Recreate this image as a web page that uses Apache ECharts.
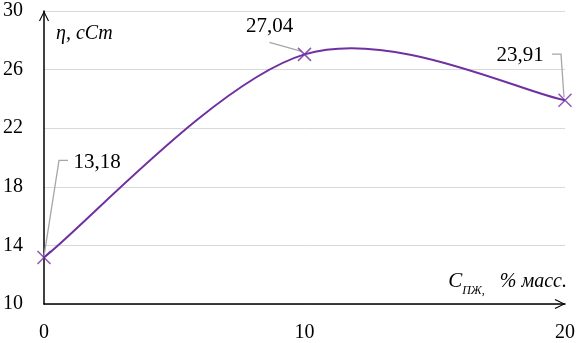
<!DOCTYPE html>
<html><head><meta charset="utf-8">
<script src="https://cdn.jsdelivr.net/npm/echarts@6/dist/echarts.min.js"></script>
<style>html,body{margin:0;padding:0;background:#fff}#c{width:578px;height:343px}</style>
</head><body><div id="c"></div>
<script>
var xValues = [0, 10, 20];
var yValues = [13.18, 27.04, 23.91];
var valueLabels = ['13,18', '27,04', '23,91'];
var yTicks = [10, 14, 18, 22, 26, 30];
var xTicks = [0, 10, 20];

var chart = echarts.init(document.getElementById('c'));
// label text centre offsets and leader-line bends, in pixels relative to the point
var labelOffsets = [[53, -95], [-35, -28], [-45, -45]];
var leaderBends = [
  [[24, -97], [15, -97], [0, -1]],
  [[-35, -12], [-3, -3]],
  [[-13, -46], [-4, -46], [-1, -3]]
];
var serif = 'Liberation Serif';
var purple = '#7030A0';
var arrowPath = 'path://M0,10L5,0L10,10L9,10.6L5,2.2L1,10.6Z';

function renderCurve(params, api) {
  var i = params.dataIndex;
  if (i >= xValues.length - 1) return null;
  var P = xValues.map(function (x, k) { return api.coord([x, yValues[k]]); });
  var p0 = P[Math.max(i - 1, 0)], p1 = P[i], p2 = P[i + 1], p3 = P[Math.min(i + 2, P.length - 1)];
  return {
    type: 'bezierCurve',
    shape: {
      x1: p1[0], y1: p1[1], x2: p2[0], y2: p2[1],
      cpx1: p1[0] + (p2[0] - p0[0]) / 6, cpy1: p1[1] + (p2[1] - p0[1]) / 6,
      cpx2: p2[0] - (p3[0] - p1[0]) / 6, cpy2: p2[1] - (p3[1] - p1[1]) / 6
    },
    style: {stroke: purple, lineWidth: 2, fill: null}
  };
}

function renderLabel(params, api) {
  var i = params.dataIndex;
  var p = api.coord([api.value(0), api.value(1)]);
  var o = labelOffsets[i];
  var pts = leaderBends[i].map(function (b) { return [p[0] + b[0], p[1] + b[1]]; });
  return {
    type: 'group',
    children: [{
      type: 'polyline',
      shape: {points: pts},
      style: {stroke: '#a6a6a6', lineWidth: 1.3, fill: null}
    }, {
      type: 'text',
      style: {text: valueLabels[i], x: p[0] + o[0], y: p[1] + o[1], fill: '#000',
        font: '21px "Liberation Serif"', align: 'center', verticalAlign: 'middle'}
    }]
  };
}

var points = xValues.map(function (x, i) { return [x, yValues[i]]; });

chart.setOption({
  animation: false,
  grid: {left: 44, right: 12, top: 11, bottom: 37},
  xAxis: {
    type: 'value', min: 0, max: 20, interval: 10,
    axisLine: {lineStyle: {color: '#000', width: 1.5}, symbol: ['none', arrowPath], symbolSize: [10, 11], symbolOffset: [0, -5]},
    axisTick: {show: false},
    splitLine: {show: false},
    axisLabel: {color: '#000', fontFamily: serif, fontSize: 20, margin: 19},
    name: '{c|C}{s|ПЖ,}{g| }{i|% масс.}',
    nameLocation: 'end', nameGap: 0,
    nameTextStyle: {align: 'right', verticalAlign: 'bottom', padding: [0, -2, 12, 0],
      rich: {c: {fontFamily: serif, fontStyle: 'italic', fontSize: 21, color: '#000'},
             i: {fontFamily: serif, fontStyle: 'italic', fontSize: 20, color: '#000'},
             g: {fontSize: 20, width: 15},
             s: {fontFamily: serif, fontStyle: 'italic', fontSize: 12, color: '#000', verticalAlign: 'bottom', padding: [0, 0, -5, 0]}}}
  },
  yAxis: {
    type: 'value', min: 10, max: 30, interval: 4,
    axisLine: {show: true, lineStyle: {color: '#000', width: 1.5}, symbol: ['none', arrowPath], symbolSize: [10, 11], symbolOffset: [0, -5]},
    axisTick: {show: false},
    splitLine: {show: true, lineStyle: {color: '#d9d9d9', width: 1}},
    axisLabel: {color: '#000', fontFamily: serif, fontSize: 20, margin: 21},
    name: 'η, cCm', nameLocation: 'end', nameGap: 0,
    nameTextStyle: {fontFamily: serif, fontStyle: 'italic', fontSize: 20, color: '#000', align: 'left', verticalAlign: 'top', padding: [13, 0, 0, 12]}
  },
  series: [{
    type: 'custom',
    renderItem: renderCurve,
    data: points,
    z: 2
  }, {
    type: 'custom',
    renderItem: renderLabel,
    data: points,
    clip: false,
    z: 3
  }, {
    type: 'scatter',
    data: points,
    symbol: 'path://M0,0L10,10M10,0L0,10',
    symbolSize: 13,
    itemStyle: {color: purple, borderColor: purple, borderWidth: 1.5},
    z: 4
  }]
});
</script></body></html>
